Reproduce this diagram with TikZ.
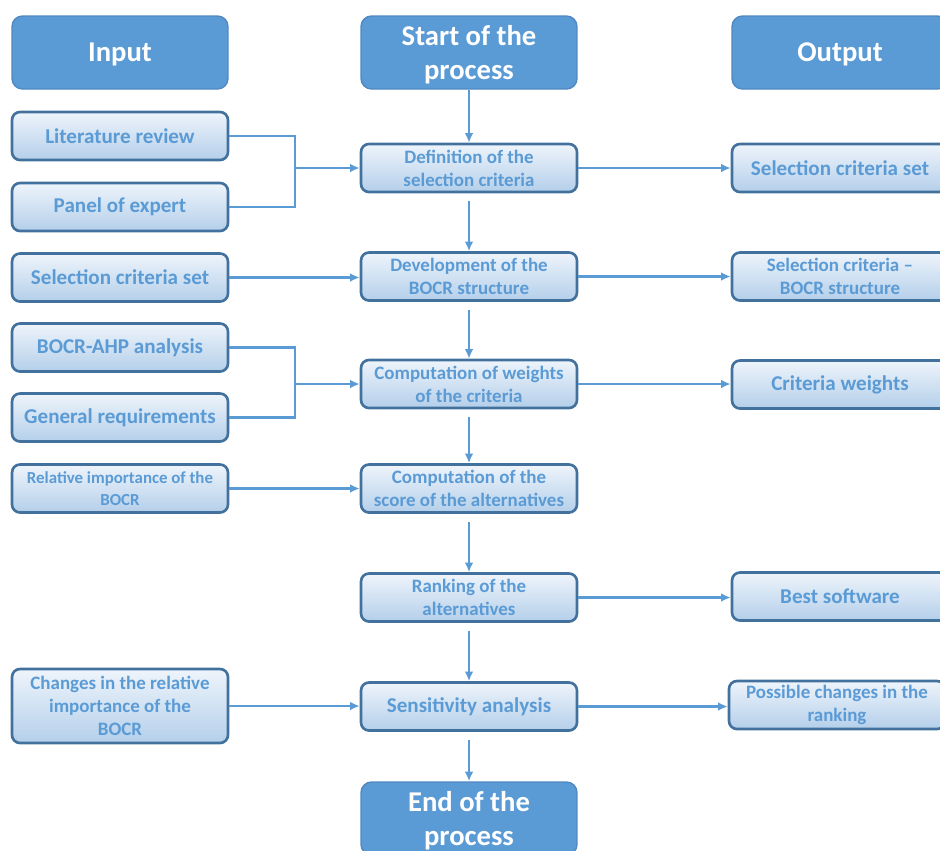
\documentclass[tikz,border=0pt]{standalone}
\usepackage{fontspec}
\setmainfont{Carlito}
\usetikzlibrary{arrows.meta,positioning,calc}
\definecolor{hdrblue}{HTML}{5B9BD5}
\definecolor{hdrline}{HTML}{4F88C2}
\definecolor{boxline}{HTML}{41719C}
\definecolor{boxtop}{HTML}{EEF4FB}
\definecolor{boxbot}{HTML}{B4CFEA}
\definecolor{txtblue}{HTML}{5B9BD5}
\definecolor{linkblue}{HTML}{5B9BD5}

\begin{document}
\begin{tikzpicture}[
    x=0.02cm, y=-0.02cm,
    hdr/.style={rectangle, rounded corners=6pt, draw=hdrline, fill=hdrblue, line width=0.8pt,
                minimum width=4.32cm, minimum height=1.46cm, inner sep=0pt, text depth=0pt,
                text=white, align=center, font=\fontsize{16.3}{19.8}\selectfont\bfseries},
    stage/.style={rectangle, rounded corners=4.5pt, draw=boxline, top color=boxtop, bottom color=boxbot,
                  line width=1.5pt, minimum width=4.32cm, minimum height=0.96cm, inner sep=0pt,
                  text=txtblue, align=center, font=\fontsize{10.8}{13}\selectfont\bfseries},
    big/.style={font=\fontsize{12}{14.5}\selectfont\bfseries},
    flow/.style={-{Latex[length=5.5pt,width=5pt]}, line width=1.4pt, color=linkblue},
    wire/.style={line width=1.4pt, color=linkblue}
  ]

% ---------------- frame ----------------
\useasboundingbox (0,0) rectangle (940,850);
\clip (0,0) rectangle (940,850);

% ---------------- geometry ----------------
\def\xl{120}     % centre of input column
\def\xc{469}     % centre of process column
\def\xr{840}     % centre of output column
\def\xf{295}     % x of the input forks

% ---------------- headers ----------------
\node[hdr] (hin)    at (\xl, 52.5) {Input};
\node[hdr] (hstart) at (\xc, 52.5) {Start of the\\process};
\node[hdr] (hout)   at (\xr, 52.5) {Output};

% ---------------- process steps ----------------
\node[stage] (p1) at (\xc, 168)   {Definition of the\\selection criteria};
\node[stage] (p2) at (\xc, 276.5) {Development of the\\BOCR structure};
\node[stage] (p3) at (\xc, 384)   {Computation of weights\\of the criteria};
\node[stage] (p4) at (\xc, 488.5) {Computation of the\\score of the alternatives};
\node[stage] (p5) at (\xc, 597.5) {Ranking of the\\alternatives};
\node[stage, big] (p6) at (\xc, 706.5) {Sensitivity analysis};
\node[hdr] (hend) at (\xc, 818.5) {End of the\\process};

% ---------------- inputs ----------------
\node[stage, big] (i1) at (\xl, 136)   {Literature review};
\node[stage, big] (i2) at (\xl, 207)   {Panel of expert};
\node[stage, big] (i3) at (\xl, 277.5) {Selection criteria set};
\node[stage, big] (i4) at (\xl, 347.5) {BOCR-AHP analysis};
\node[stage, big] (i5) at (\xl, 417.5) {General requirements};
\node[stage, font=\fontsize{9.6}{12.5}\selectfont\bfseries] (i6) at (\xl, 488.5)
  {Relative importance of the\\BOCR};
\node[stage, minimum height=1.48cm] (i7) at (\xl, 706)
  {Changes in the relative\\importance of the\\BOCR};

% ---------------- outputs ----------------
\node[stage, big] (o1) at (\xr, 168)   {Selection criteria set};
\node[stage] (o2) at (\xr, 276.5) {Selection criteria --\\BOCR structure};
\node[stage, big] (o3) at (\xr, 384.5) {Criteria weights};
\node[stage, big] (o5) at (\xr, 596.5) {Best software};
\node[stage] (o6) at (837, 705) {Possible changes in the\\ranking};

% ---------------- main flow ----------------
\draw[flow] (hstart.south) -- (p1.north);
\foreach \a/\b in {p1/p2,p2/p3,p3/p4,p4/p5,p5/p6,p6/hend}
  \draw[flow, shorten <=4.5pt] (\a.south) -- (\b.north);

% ---------------- forks of inputs ----------------
\coordinate (f1) at (\xf, 168);
\coordinate (f2) at (\xf, 384);
\draw[wire] (i1.east) -| (f1) |- (i2.east);
\draw[wire] (i4.east) -| (f2) |- (i5.east);
\draw[flow] (f1) -- (p1.west);
\draw[flow] (f2) -- (p3.west);

% ---------------- single inputs ----------------
\foreach \a/\b in {i3/p2,i6/p4,i7/p6}
  \draw[flow] (\a.east) -- (\a.east -| \b.west);

% ---------------- outputs ----------------
\foreach \a/\b in {p1/o1,p2/o2,p3/o3,p5/o5,p6/o6}
  \draw[flow] (\a.east) -- (\a.east -| \b.west);

\end{tikzpicture}
\end{document}
